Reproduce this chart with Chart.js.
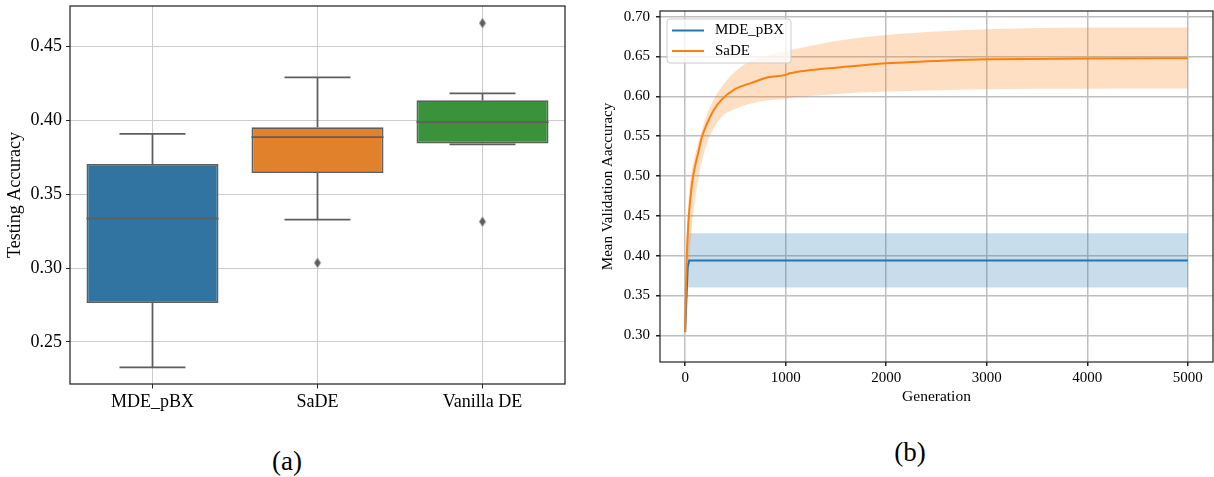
<!DOCTYPE html>
<html>
<head>
<meta charset="utf-8">
<script src="https://cdn.jsdelivr.net/npm/chart.js@4.4.1/dist/chart.umd.min.js"></script>
<style>
  html, body { margin: 0; padding: 0; background: #fff; }
  body { width: 1214px; height: 477px; position: relative; overflow: hidden; font-family: 'Liberation Serif', serif; }
  #boxChart { position: absolute; left: 0; top: 0; }
  #curveChart { position: absolute; left: 590px; top: 0; }
  .caption { position: absolute; width: 60px; text-align: center; font-size: 27px; line-height: 1; color: #000; }
</style>
</head>
<body>
<canvas id="boxChart" width="580" height="420"></canvas>
<canvas id="curveChart" width="624" height="420"></canvas>
<div class="caption" style="left:257px; top:448px">(a)</div>
<div class="caption" style="left:880px; top:439px">(b)</div>
<script>
// (a) testing accuracy box plot
const methods = ['MDE_pBX', 'SaDE', 'Vanilla DE']
const boxColors = ['#3274a1', '#e1812c', '#3a923a']
const q1 = [0.2764, 0.3645, 0.3845]
const q3 = [0.3706, 0.3955, 0.4137]
const medians = [0.3336, 0.3887, 0.3990]
const whiskerLow = [0.2327, 0.3329, 0.3838]
const whiskerHigh = [0.3910, 0.4293, 0.4184]
const outlierMethod = ['SaDE', 'Vanilla DE', 'Vanilla DE']
const outlierValue = [0.3036, 0.4660, 0.3315]
const boxTicks = [0.25, 0.30, 0.35, 0.40, 0.45]

// (b) mean validation accuracy per generation, with spread band
const sadeGen = [0, 8, 17, 33, 56, 82, 126, 165, 215, 280, 363, 495, 660, 825, 1000, 1040, 1250, 1500, 2000, 2600, 3000, 4000, 5000]
const sadeMean = [0.304, 0.360, 0.402, 0.443, 0.477, 0.502, 0.527, 0.548, 0.565, 0.582, 0.596, 0.609, 0.617, 0.624, 0.627, 0.629, 0.633, 0.636, 0.6415, 0.6452, 0.6467, 0.6475, 0.6478]
const sadeUpper = [0.306, 0.375, 0.425, 0.468, 0.499, 0.517, 0.540, 0.557, 0.576, 0.595, 0.612, 0.631, 0.645, 0.652, 0.657, 0.658, 0.6635, 0.6695, 0.677, 0.682, 0.6844, 0.6864, 0.6864]
const sadeLower = [0.302, 0.330, 0.355, 0.381, 0.420, 0.455, 0.492, 0.518, 0.540, 0.559, 0.574, 0.584, 0.591, 0.595, 0.597, 0.598, 0.6005, 0.603, 0.606, 0.608, 0.609, 0.6095, 0.6098]
const mdeGen = [0, 25, 40, 5000]
const mdeMean = [0.304, 0.385, 0.394, 0.394]
const mdeUpper = [0.306, 0.428, 0.428, 0.428]
const mdeLower = [0.302, 0.360, 0.360, 0.360]
const genTicks = [0, 1000, 2000, 3000, 4000, 5000]
const accTicks = [0.30, 0.35, 0.40, 0.45, 0.50, 0.55, 0.60, 0.65, 0.70]

const serif = "'Liberation Serif', serif"
const lineGray = '#5e5e5e'

function toPoints(xs, ys) {
  return xs.map((x, i) => ({ x: x, y: ys[i] }))
}

// thin diamond used for the fliers
function diamondMarker() {
  const c = document.createElement('canvas')
  c.width = 8
  c.height = 11
  const g = c.getContext('2d')
  g.fillStyle = lineGray
  g.beginPath()
  g.moveTo(4, 0.5)
  g.lineTo(7.3, 5.5)
  g.lineTo(4, 10.5)
  g.lineTo(0.7, 5.5)
  g.closePath()
  g.fill()
  return c
}

function framePlugin(color, width) {
  return {
    id: 'frame',
    afterDatasetsDraw(chart) {
      const { ctx, chartArea } = chart
      ctx.save()
      ctx.strokeStyle = color
      ctx.lineWidth = width
      ctx.strokeRect(chartArea.left, chartArea.top, chartArea.right - chartArea.left, chartArea.bottom - chartArea.top)
      ctx.restore()
    }
  }
}

const boxWhiskers = {
  id: 'boxWhiskers',
  afterDatasetsDraw(chart) {
    const meta = chart.getDatasetMeta(0)
    const y = chart.scales.y
    const ctx = chart.ctx
    ctx.save()
    ctx.strokeStyle = lineGray
    ctx.lineWidth = 1.75
    meta.data.forEach((bar, i) => {
      const half = bar.width / 2
      const cap = half / 2
      const yLo = y.getPixelForValue(whiskerLow[i])
      const yHi = y.getPixelForValue(whiskerHigh[i])
      const yQ1 = y.getPixelForValue(q1[i])
      const yQ3 = y.getPixelForValue(q3[i])
      const yMed = y.getPixelForValue(medians[i])
      ctx.beginPath()
      ctx.moveTo(bar.x, yQ3)
      ctx.lineTo(bar.x, yHi)
      ctx.moveTo(bar.x - cap, yHi)
      ctx.lineTo(bar.x + cap, yHi)
      ctx.moveTo(bar.x, yQ1)
      ctx.lineTo(bar.x, yLo)
      ctx.moveTo(bar.x - cap, yLo)
      ctx.lineTo(bar.x + cap, yLo)
      ctx.moveTo(bar.x - half, yMed)
      ctx.lineTo(bar.x + half, yMed)
      ctx.stroke()
    })
    ctx.restore()
  }
}

const legendBox = {
  id: 'legendBox',
  afterDraw(chart) {
    const { ctx, chartArea } = chart
    const entries = chart.data.datasets
      .filter(ds => ds.legendRank !== undefined)
      .sort((a, b) => a.legendRank - b.legendRank)
    const x = chartArea.left + 7
    const y = chartArea.top + 8
    const w = 124
    const h = 44
    ctx.save()
    ctx.beginPath()
    ctx.roundRect(x, y, w, h, 3)
    ctx.fillStyle = 'rgba(255, 255, 255, 0.8)'
    ctx.fill()
    ctx.strokeStyle = '#cccccc'
    ctx.lineWidth = 1
    ctx.stroke()
    entries.forEach((ds, i) => {
      const cy = y + 11.5 + i * 20.5
      ctx.beginPath()
      ctx.moveTo(x + 5, cy)
      ctx.lineTo(x + 37, cy)
      ctx.strokeStyle = ds.borderColor
      ctx.lineWidth = 2
      ctx.stroke()
      ctx.fillStyle = '#000'
      ctx.font = '15px ' + serif
      ctx.textBaseline = 'middle'
      ctx.fillText(ds.label, x + 48, cy)
    })
    ctx.restore()
  }
}

new Chart(document.getElementById('boxChart'), {
  type: 'bar',
  data: {
    labels: methods,
    datasets: [{
      label: 'Testing Accuracy',
      data: methods.map((m, i) => [q1[i], q3[i]]),
      backgroundColor: boxColors,
      borderColor: lineGray,
      borderWidth: 1.75,
      borderSkipped: false,
      barPercentage: 0.8,
      categoryPercentage: 1.0
    }, {
      type: 'scatter',
      label: 'Outliers',
      data: outlierMethod.map((m, i) => ({ x: m, y: outlierValue[i] })),
      pointStyle: diamondMarker(),
      pointRadius: 5
    }]
  },
  options: {
    responsive: false,
    animation: false,
    events: [],
    layout: { padding: { top: 4, right: 15, left: 0, bottom: 0 } },
    plugins: {
      legend: { display: false },
      tooltip: { enabled: false }
    },
    scales: {
      x: {
        type: 'category',
        offset: true,
        grid: { offset: false, color: '#cccccc', lineWidth: 1, tickLength: 4.5, tickColor: '#262626' },
        border: { display: false },
        ticks: { color: '#000', font: { family: serif, size: 18 }, padding: 3 },
        afterFit(scale) {
          scale.height = 36
          scale.paddingLeft = 0
          scale.paddingRight = 0
        }
      },
      y: {
        type: 'linear',
        min: 0.2215,
        max: 0.4776,
        afterBuildTicks(scale) {
          scale.ticks = boxTicks.map(v => ({ value: v }))
        },
        grid: { color: '#cccccc', lineWidth: 1, tickLength: 4, tickColor: '#262626' },
        border: { display: false },
        ticks: { color: '#000', font: { family: serif, size: 18 }, padding: 4, callback: v => v.toFixed(2) },
        title: { display: true, text: 'Testing Accuracy', color: '#000', font: { family: serif, size: 18 }, padding: { top: 4 } },
        afterFit(scale) {
          scale.width = 70
          scale.paddingTop = 0
          scale.paddingBottom = 0
        }
      }
    }
  },
  plugins: [boxWhiskers, framePlugin('#262626', 1.25)]
})

new Chart(document.getElementById('curveChart'), {
  type: 'line',
  data: {
    datasets: [{
      label: 'SaDE',
      legendRank: 1,
      data: toPoints(sadeGen, sadeMean),
      borderColor: '#ff7f0e',
      borderWidth: 2,
      pointRadius: 0,
      cubicInterpolationMode: 'monotone',
      fill: false,
      order: 0
    }, {
      label: 'MDE_pBX',
      legendRank: 0,
      data: toPoints(mdeGen, mdeMean),
      borderColor: '#1f77b4',
      borderWidth: 2,
      pointRadius: 0,
      fill: false,
      order: 1
    }, {
      label: 'SaDE upper',
      data: toPoints(sadeGen, sadeUpper),
      borderWidth: 0,
      pointRadius: 0,
      cubicInterpolationMode: 'monotone',
      backgroundColor: 'rgba(255, 127, 14, 0.25)',
      fill: '+1',
      order: 2
    }, {
      label: 'SaDE lower',
      data: toPoints(sadeGen, sadeLower),
      borderWidth: 0,
      pointRadius: 0,
      cubicInterpolationMode: 'monotone',
      fill: false,
      order: 2
    }, {
      label: 'MDE_pBX upper',
      data: toPoints(mdeGen, mdeUpper),
      borderWidth: 0,
      pointRadius: 0,
      backgroundColor: 'rgba(31, 119, 180, 0.25)',
      fill: '+1',
      order: 3
    }, {
      label: 'MDE_pBX lower',
      data: toPoints(mdeGen, mdeLower),
      borderWidth: 0,
      pointRadius: 0,
      fill: false,
      order: 3
    }]
  },
  options: {
    responsive: false,
    animation: false,
    events: [],
    layout: { padding: { top: 11, right: 1, left: 0, bottom: 0 } },
    plugins: {
      legend: { display: false },
      tooltip: { enabled: false }
    },
    scales: {
      x: {
        type: 'linear',
        min: -250,
        max: 5250,
        afterBuildTicks(scale) {
          scale.ticks = genTicks.map(v => ({ value: v }))
        },
        grid: { color: '#bfbfbf', lineWidth: 1.5, tickLength: 4, tickColor: '#222' },
        border: { display: false },
        ticks: { color: '#000', font: { family: serif, size: 15 }, padding: 3, callback: v => String(v) },
        title: { display: true, text: 'Generation', color: '#000', font: { family: serif, size: 15.5 }, padding: { bottom: 14 } },
        afterFit(scale) {
          scale.height = 58
          scale.paddingLeft = 0
          scale.paddingRight = 0
        }
      },
      y: {
        type: 'linear',
        min: 0.2665,
        max: 0.7072,
        afterBuildTicks(scale) {
          scale.ticks = accTicks.map(v => ({ value: v }))
        },
        grid: { color: '#bfbfbf', lineWidth: 1.5, tickLength: 4, tickColor: '#222' },
        border: { display: false },
        ticks: { color: '#000', font: { family: serif, size: 15 }, padding: 6, callback: v => v.toFixed(2) },
        title: { display: true, text: 'Mean Validation Aaccuracy', color: '#000', font: { family: serif, size: 15 }, padding: { top: 9 } },
        afterFit(scale) {
          scale.width = 70
          scale.paddingTop = 0
          scale.paddingBottom = 0
        }
      }
    }
  },
  plugins: [framePlugin('#222', 1.2), legendBox]
})
</script>
</body>
</html>
